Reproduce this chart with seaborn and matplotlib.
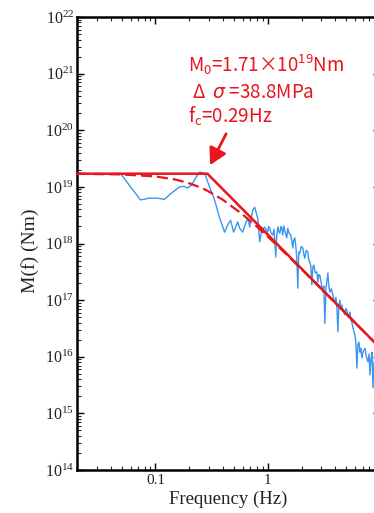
import numpy as np
import seaborn as sns
import matplotlib
matplotlib.use("Agg")
import matplotlib.pyplot as plt
from matplotlib.ticker import LogLocator, NullFormatter, FuncFormatter, FixedLocator

obs_freq = [0.049, 0.0735, 0.088, 0.104, 0.120, 0.139, 0.164, 0.18, 0.193, 0.21,
            0.228, 0.247, 0.274, 0.303, 0.336, 0.373, 0.413, 0.44, 0.467, 0.497,
            0.54, 0.562, 0.598, 0.636, 0.663, 0.691, 0.735, 0.765, 0.814, 0.848,
            0.884, 0.94,
            1.0, 1.02, 1.042, 1.07, 1.108, 1.14, 1.179, 1.20, 1.228, 1.25,
            1.28, 1.31, 1.334, 1.36, 1.389, 1.43, 1.478, 1.509, 1.55, 1.605,
            1.64, 1.672, 1.70, 1.742, 1.78, 1.815, 1.853, 1.89, 1.931, 1.99,
            2.054, 2.10, 2.14, 2.20, 2.276, 2.32, 2.371, 2.42, 2.472, 2.52,
            2.576, 2.65, 2.738, 2.795, 2.85, 2.913, 3.00, 3.097, 3.16, 3.227,
            3.30, 3.434, 3.50, 3.578, 3.69, 3.803, 3.88, 3.964, 4.05, 4.13,
            4.217, 4.30, 4.39, 4.48, 4.578, 4.70, 4.87, 4.95, 5.07, 5.20,
            5.40, 5.50, 5.62, 5.74, 5.85, 5.98, 6.10, 6.23, 6.35, 6.49,
            6.63, 6.75, 6.90, 7.10, 7.35, 7.55, 7.81, 8.00, 8.14, 8.30,
            8.49, 8.66, 8.85, 9.02, 9.30, 9.60]
obs_logm = [19.23, 18.77, 18.80, 18.80, 18.78, 18.89, 19.00, 19.01, 18.98, 19.03,
            19.16, 19.26, 19.24, 19.00, 18.77, 18.45, 18.20, 18.33, 18.41, 18.20,
            18.38, 18.27, 18.20, 18.36, 18.45, 18.29, 18.59, 18.64, 18.45, 18.03,
            18.24, 18.29,
            18.20, 18.30, 18.27, 18.18, 18.15, 18.25, 17.76, 18.10, 18.29, 18.22,
            18.18, 18.30, 18.27, 18.15, 18.31, 18.20, 18.10, 18.27, 18.18, 18.15,
            18.05, 17.92, 18.05, 18.10, 17.95, 17.74, 17.21, 17.85, 17.83, 17.95,
            17.92, 17.80, 17.74, 17.88, 17.85, 17.70, 17.67, 17.60, 17.27, 17.58,
            17.62, 17.48, 17.50, 17.32, 17.45, 17.44, 17.30, 17.14, 17.25, 16.59,
            17.20, 17.48, 17.25, 17.14, 17.20, 17.09, 17.00, 16.97, 17.05, 16.86,
            16.44, 16.90, 17.00, 16.85, 16.91, 16.80, 16.74, 16.85, 16.82, 16.70,
            16.79, 16.65, 16.61, 16.51, 16.45, 16.38, 16.25, 15.80, 16.20, 16.26,
            16.08, 16.15, 15.98, 16.10, 16.15, 16.00, 15.91, 16.05, 15.68, 15.95,
            16.08, 15.45, 15.90, 15.94, 15.75, 15.59]

# omega-square fit (solid) : flat level, corner, f^-2 fall-off
fit_freq = [0.02, 0.29, 10.0]
fit_logm = [19.233, 19.233, 16.157]

# Brune type curve (dashed)
brune_freq = [0.02, 0.05, 0.1, 0.15, 0.2, 0.25, 0.29, 0.4, 0.6, 0.8, 1.0,
              1.4, 2.0, 3.0, 5.0, 10.0]
brune_logm = [19.231, 19.220, 19.184, 19.130, 19.064, 18.992, 18.932, 18.770,
              18.510, 18.298, 18.123, 17.847, 17.547, 17.200, 16.759, 16.157]

x_ticks = [0.1, 1, 10]
x_tick_labels = ["0.1", "1", "10"]

sns.set_style("ticks")
plt.rcParams['font.family'] = ['Liberation Serif']
plt.rcParams['xtick.direction'] = 'in'
plt.rcParams['ytick.direction'] = 'in'

red = "#e8141e"
blue = "#3a96ee"

fig = plt.figure(figsize=(3.74, 5.13), dpi=100)
ax = fig.add_axes([77/374, 43/513, 303/374, 453/513])
ax.set_xscale('log')
ax.set_yscale('log')

sns.lineplot(x=obs_freq, y=10**np.array(obs_logm), ax=ax, color=blue, lw=1.0,
             sort=False, zorder=2)
sns.lineplot(x=brune_freq, y=10**np.array(brune_logm), ax=ax, color=red, lw=1.6,
             linestyle=(0, (5, 2.2)), sort=False, zorder=3)
sns.lineplot(x=fit_freq, y=10**np.array(fit_logm), ax=ax, color=red, lw=1.8,
             sort=False, zorder=4)

ax.set_xlim(0.02, 10)
ax.set_ylim(1e14, 1e22)

ax.yaxis.set_major_locator(LogLocator(base=10, numticks=20))
ax.yaxis.set_minor_locator(LogLocator(base=10, subs=np.arange(2, 10), numticks=200))
ax.yaxis.set_minor_formatter(NullFormatter())
ax.yaxis.set_major_formatter(FuncFormatter(lambda v, p: r'$\mathdefault{10^{%d}}$' % round(np.log10(v))))
ax.xaxis.set_major_locator(FixedLocator(x_ticks))
ax.xaxis.set_major_formatter(FuncFormatter(lambda v, p: x_tick_labels[x_ticks.index(v)] if v in x_ticks else ""))
ax.xaxis.set_minor_locator(LogLocator(base=10, subs=np.arange(2, 10), numticks=200))
ax.xaxis.set_minor_formatter(NullFormatter())

ax.tick_params(which='major', length=5, width=1.0, top=True, right=True,
               pad=3, color='black', labelcolor='#222222')
ax.tick_params(axis='y', which='major', labelsize=11.5, pad=2)
ax.tick_params(axis='x', which='major', labelsize=11)
ax.tick_params(which='minor', length=2.8, width=0.8, top=True, right=True)
for s in ax.spines.values():
    s.set_linewidth(1.8)
    s.set_color('black')

ax.set_xlabel("Frequency (Hz)", fontsize=13.5, color='#222222')
ax.set_ylabel("M(f) (Nm)", fontsize=14, color='#222222')
ax.xaxis.set_label_coords(0.50, -0.046)
ax.yaxis.set_label_coords(-0.125, 0.485)

jp = 'Noto Sans CJK JP'
ax.text(0.366, 0.8786, r'M$_{\mathdefault{0}}$=1.71×10$^{\mathdefault{19}}$Nm',
        transform=ax.transAxes, color=red, fontsize=13.5, family=jp, va='baseline')
ax.text(0.366, 0.821, r' Δ  $\sigma$ =38.8MPa',
        transform=ax.transAxes, color=red, fontsize=13.5, family=jp, va='baseline')
ax.text(0.366, 0.766, r'f$_{\mathdefault{c}}$=0.29Hz',
        transform=ax.transAxes, color=red, fontsize=13.5, family=jp, va='baseline')
ax.annotate('', xy=(0.439, 0.673), xytext=(0.492, 0.742), xycoords='axes fraction',
            arrowprops=dict(arrowstyle='-|>,head_length=1.0,head_width=0.55',
                            color=red, lw=2.0, shrinkA=0, shrinkB=0))

fig.savefig("out.png", dpi=100)
